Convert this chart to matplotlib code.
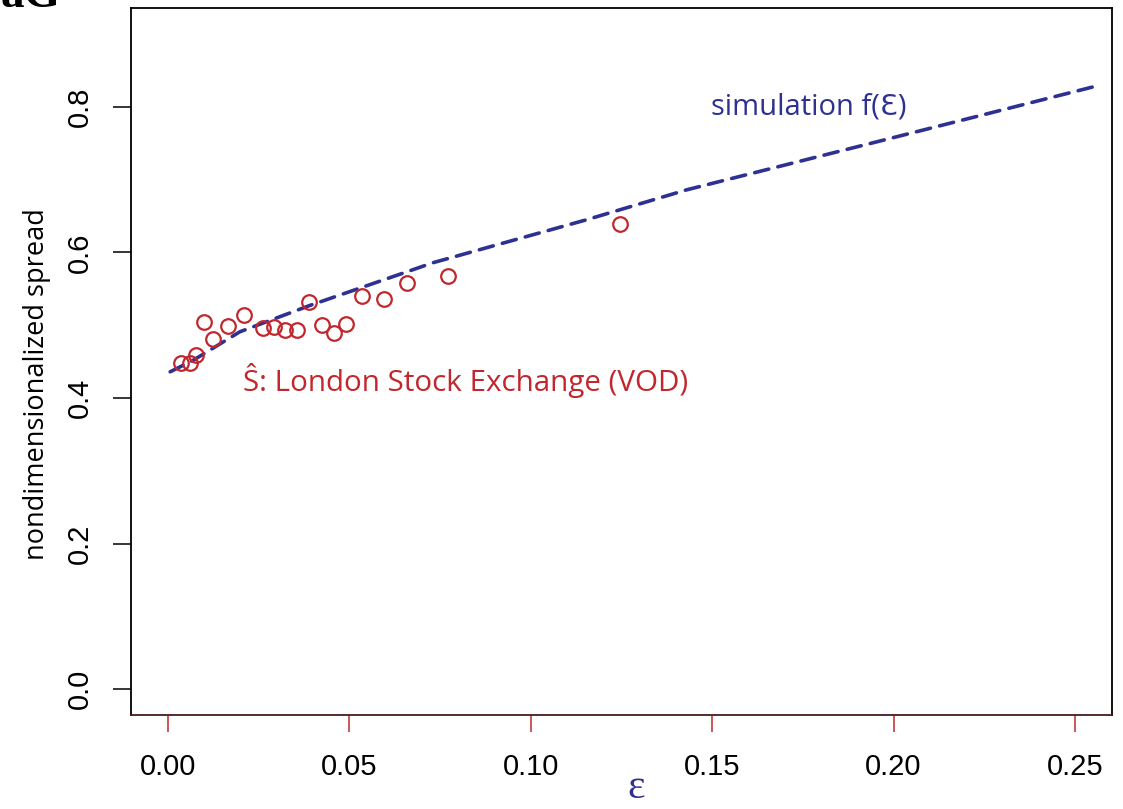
import matplotlib
matplotlib.use("Agg")
import matplotlib.pyplot as plt

# data
eps_obs = [0.0035, 0.0061, 0.0076, 0.0100, 0.0123, 0.0164, 0.0209, 0.0261,
           0.0293, 0.0322, 0.0355, 0.0389, 0.0424, 0.0458, 0.0491, 0.0536,
           0.0594, 0.0660, 0.0771, 0.1246]
spread_obs = [0.448, 0.448, 0.459, 0.505, 0.481, 0.499, 0.514, 0.496,
              0.497, 0.494, 0.494, 0.532, 0.501, 0.490, 0.502, 0.540,
              0.536, 0.558, 0.568, 0.639]

eps_sim = [0.0006, 0.007, 0.0198, 0.039, 0.0731, 0.1154, 0.1429, 0.1953, 0.2569]
spread_sim = [0.436, 0.452, 0.491, 0.527, 0.586, 0.645, 0.686, 0.752, 0.830]

x_ticks = [0.00, 0.05, 0.10, 0.15, 0.20, 0.25]
y_ticks = [0.0, 0.2, 0.4, 0.6, 0.8]

RED = "#c1272d"
BLUE = "#2e3192"
TICK_FONT = "Liberation Sans"
TEXT_FONT = "Open Sans"

fig = plt.figure(figsize=(11.23, 8.09), dpi=100)
ax = fig.add_axes([131 / 1123, 1 - 715 / 809, 981 / 1123, 707 / 809])

ax.plot(eps_sim, spread_sim, color=BLUE, lw=2.6, linestyle=(0, (4, 2.6)),
        dash_capstyle="round")
ax.plot(eps_obs, spread_obs, linestyle="none", marker="o", ms=10.5,
        mfc="none", mec=RED, mew=1.6)

ax.set_xlim(-0.0102, 0.2602)
ax.set_ylim(-0.0357, 0.936)

ax.set_xticks(x_ticks)
ax.set_xticklabels(["%.2f" % v for v in x_ticks], family=TICK_FONT, fontsize=21)
ax.set_yticks(y_ticks)
ax.set_yticklabels(["%.1f" % v for v in y_ticks], family=TICK_FONT, fontsize=21,
                   rotation=90, va="center")
ax.tick_params(axis="x", length=12.5, width=1.1, color=RED, pad=15)
ax.tick_params(axis="y", length=13, width=1.1, color="black", pad=14)

for side in ["left", "right", "top", "bottom"]:
    ax.spines[side].set_linewidth(1.3)
ax.spines["bottom"].set_color("#4a1a1e")

# annotations
ax.text(0.1498, 0.8, "simulation f(\u0190)", color=BLUE, fontsize=21,
        family=[TEXT_FONT, "DejaVu Sans"], va="center", ha="left")
ax.text(0.0207, 0.424, "\u015c: London Stock Exchange (VOD)", color=RED,
        fontsize=21.3, family=[TEXT_FONT, "DejaVu Sans"], va="center", ha="left")

fig.text(37 / 1123, 1 - 384 / 809, "nondimensionalized spread", rotation=90,
         fontsize=19.5, family=TEXT_FONT, ha="center", va="center")
fig.text(636 / 1123, 1 - 788 / 809, "\u03b5", color=BLUE, fontsize=30,
         family="Liberation Serif", ha="center", va="center")

# cropped panel label in the corner
fig.text(0.0, 1 - 7 / 809, "aG", fontsize=34, weight="bold",
         family="Liberation Serif", ha="left", va="baseline")

fig.savefig("out.png", dpi=100)
